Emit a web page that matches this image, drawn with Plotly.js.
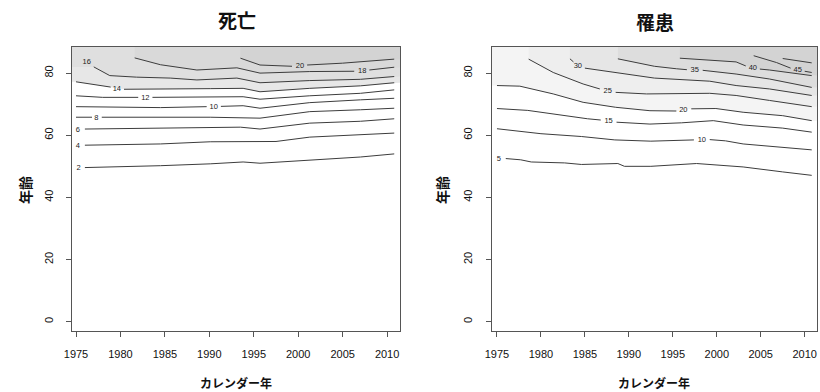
<!DOCTYPE html>
<html>
<head>
<meta charset="utf-8">
<script src="https://cdn.plot.ly/plotly-3.0.1.min.js"></script>
<style>html,body{margin:0;padding:0;background:#fff;}#chart{width:820px;height:392px;}</style>
</head>
<body>
<div id="chart"></div>
<script>
// ---------- 死亡 (mortality) contour lines: calendar year vs age ----------
const mortLevels = [2, 4, 6, 8, 10, 12, 14, 16, 18, 20];
const mort2X = [1976, 1981.8, 1984.5, 1990.1, 1993.8, 1995.7, 2001.3, 2007, 2010.8];
const mort2Y = [49.6, 49.9, 50.2, 50.8, 51.4, 51.0, 51.9, 53.0, 54.0];
const mort4X = [1976, 1984.5, 1990.1, 1995.7, 1997.5, 2001.3, 2007, 2010.8];
const mort4Y = [56.8, 57.2, 57.9, 57.9, 58.0, 59.4, 60.1, 60.7];
const mort6X = [1976, 1984.5, 1990.1, 1993.5, 1995.7, 2001.3, 2007, 2010.8];
const mort6Y = [62.0, 62.2, 62.4, 62.6, 62.0, 63.9, 64.5, 65.3];
const mort8X = [1975, 1976.8, null, 1977.9, 1984.5, 1990.1, 1995.7, 2001.3, 2007, 2010.8];
const mort8Y = [65.8, 65.8, null, 65.8, 65.8, 65.8, 65.5, 67.6, 68.2, 68.7];
const mort10X = [1975, 1984.5, 1989.7, null, 1991.3, 1993.8, 1995.7, 2001.3, 2007, 2010.8];
const mort10Y = [69.2, 68.9, 69.2, null, 69.3, 69.5, 68.7, 70.5, 71.4, 71.9];
const mort12X = [1975, 1978, 1982, null, 1983.6, 1990.1, 1993.8, 1995.7, 2001.3, 2007, 2010.8];
const mort12Y = [72.7, 72.2, 72.2, null, 72.2, 72.2, 72.4, 71.6, 72.7, 73.5, 74.6];
const mort14X = [1975, 1978, 1978.9, null, 1980.4, 1984.5, 1990.1, 1993.8, 1995.7, 2001.3, 2007, 2010.8];
const mort14Y = [77.2, 75.9, 75.5, null, 74.8, 74.8, 75.0, 75.1, 74.0, 75.1, 75.9, 76.9];
const mort16X = [1977, 1978.8, 1981.8, 1985.6, 1988.6, 1993.1, 1995.7, 2001.3, 2007, 2010.8];
const mort16Y = [82.0, 79.2, 78.7, 78.4, 77.8, 78.4, 76.9, 77.6, 78.0, 78.9];
const mort18X = [1981.6, 1984.5, 1988.6, 1993.1, 1995.7, 2001.3, 2006.3, null, 2008, 2010.8];
const mort18Y = [84.9, 82.7, 81.0, 81.7, 80.0, 80.5, 80.6, null, 81.0, 81.9];
const mort20X = [1993.5, 1995.7, 1999.3, null, 2001, 2005, 2010.8];
const mort20Y = [84.8, 82.6, 82.2, null, 82.6, 83.2, 84.5];
const mortLabelText = ['2', '4', '6', '8', '10', '12', '14', '16', '18', '20'];
const mortLabelX = [1975.3, 1975.2, 1975.2, 1977.3, 1990.5, 1982.8, 1979.6, 1976.2, 2007.2, 2000.2];
const mortLabelY = [49.3, 56.5, 61.8, 65.5, 69.2, 71.8, 74.8, 83.4, 80.6, 82.4];

// ---------- 罹患 (incidence) contour lines ----------
const incLevels = [5, 10, 15, 20, 25, 30, 35, 40, 45, 50];
const inc5X = [1976, 1977.7, 1978.9, 1982.7, 1984.6, 1988.75, 1989.5, 1992.5, 1997.7, 2003, 2007.5, 2010.8];
const inc5Y = [52.5, 52.1, 51.4, 51.1, 50.6, 50.9, 50.0, 50.0, 50.9, 49.8, 48.2, 47.1];
const inc10X = [1975, 1977.8, 1980, 1984.6, 1988.4, 1992.5, 1995.5, 1997.4, null, 1999.2, 2001, 2003, 2007.5, 2010.8];
const inc10Y = [62.1, 61.3, 60.5, 59.6, 58.5, 58.1, 58.3, 58.5, null, 58.6, 58.2, 57.2, 56.2, 55.3];
const inc15X = [1975, 1978.5, 1985.3, 1986.8, null, 1988.6, 1992.4, 1996, 1999.6, 2003, 2007.5, 2010.8];
const inc15Y = [68.6, 68.0, 65.3, 64.9, null, 64.2, 63.6, 64.0, 64.7, 63.3, 62.3, 61.0];
const inc20X = [1975, 1977.6, 1981.4, 1984.8, 1988.5, 1992.4, 1995.4, null, 1997.1, 1999.9, 2003, 2007.5, 2010.8];
const inc20Y = [76.0, 75.8, 73.3, 70.6, 69.0, 67.9, 67.8, null, 68.5, 68.6, 67.4, 66.3, 64.7];
const inc25X = [1978.6, 1981.4, 1984.8, 1986.7, null, 1988.5, 1992, 1999.2, 2002.2, 2006, 2010.8];
const inc25Y = [84.5, 80.2, 76.5, 74.9, null, 73.8, 73.3, 73.5, 72.8, 71.2, 69.2];
const inc30X = [1983.3, 1983.7, null, 1985, 1987, 1992.9, 1999.2, 2002.2, 2006, 2010.8];
const inc30Y = [84.6, 83.6, null, 81.6, 80.8, 78.4, 77.4, 76.0, 74.9, 72.8];
const inc35X = [1988.75, 1992.9, 1995.4, 1996.6, null, 1998.4, 2002.2, 2006, 2010.8];
const inc35Y = [84.6, 82.2, 81.4, 81.1, null, 80.9, 79.7, 78.1, 75.4];
const inc40X = [1995.8, 1999.2, 2002.2, 2003.3, null, 2004.9, 2006, 2010.8];
const inc40Y = [84.8, 84.2, 83.6, 82.3, null, 81.3, 81.0, 79.2];
const inc45X = [2004.2, 2005.5, 2006.8, 2008.4, null, 2010, 2010.8];
const inc45Y = [85.6, 84.6, 83.4, 81.6, null, 80.6, 80.2];
const inc50X = [2007.5, 2009, 2010.8];
const inc50Y = [84.7, 84.1, 83.3];
const incLabelText = ['5', '10', '15', '20', '25', '30', '35', '40', '45'];
const incLabelX = [1975.2, 1998.3, 1987.7, 1996.2, 1987.6, 1984.2, 1997.5, 2004.1, 2009.2];
const incLabelY = [52.2, 58.5, 64.5, 68.0, 74.1, 82.4, 81.0, 81.5, 81.0];

// axis ticks
const xTickVals = [1975, 1980, 1985, 1990, 1995, 2000, 2005, 2010];
const yTickVals = [0, 20, 40, 60, 80];

// ---------------------------------------------------------------
const X_RANGE_L = [1974.55, 2011.45];
const X_RANGE_R = [1974.4, 2011.4];
const Y_RANGE = [-3.0, 88.5];
const LINE_COLOR = '#3c3c3c';

function fillPoly(xs, ys, xr, top) {
  const px = [], py = [];
  xs.forEach((x, i) => { if (x !== null && ys[i] !== null) { px.push(x); py.push(ys[i]); } });
  const outX = [], outY = [];
  if (px[0] < 1978) { outX.push(xr[0], xr[0]); outY.push(top, py[0]); }
  else { outX.push(px[0]); outY.push(top); }
  for (let i = 0; i < px.length; i++) { outX.push(px[i]); outY.push(py[i]); }
  outX.push(xr[1], xr[1]); outY.push(py[py.length - 1], top);
  return {x: outX, y: outY};
}

const traces = [];
function addFill(xs, ys, color, xa, ya, xr) {
  const p = fillPoly(xs, ys, xr, Y_RANGE[1]);
  traces.push({x: p.x, y: p.y, type: 'scatter', mode: 'lines', fill: 'toself',
    fillcolor: color, line: {width: 0}, hoverinfo: 'skip', showlegend: false, xaxis: xa, yaxis: ya});
}
function addLine(xs, ys, xa, ya) {
  traces.push({x: xs, y: ys, type: 'scatter', mode: 'lines', connectgaps: false,
    line: {color: LINE_COLOR, width: 1}, hoverinfo: 'skip', showlegend: false, xaxis: xa, yaxis: ya});
}
function addLabels(xs, ys, txt, xa, ya) {
  traces.push({x: xs, y: ys, text: txt, type: 'scatter', mode: 'text',
    textfont: {family: 'Liberation Sans, Arial, sans-serif', size: 7.5, color: '#222'},
    hoverinfo: 'skip', showlegend: false, xaxis: xa, yaxis: ya});
}

// shading (left)
addFill(mort14X, mort14Y, '#e7e7e7', 'x', 'y', X_RANGE_L);
addFill(mort16X, mort16Y, '#dfdfdf', 'x', 'y', X_RANGE_L);
addFill(mort18X, mort18Y, '#d9d9d9', 'x', 'y', X_RANGE_L);
addFill(mort20X, mort20Y, '#d3d3d3', 'x', 'y', X_RANGE_L);
// shading (right)
addFill(inc20X, inc20Y, '#f4f4f4', 'x2', 'y2', X_RANGE_R);
addFill(inc25X, inc25Y, '#eeeeee', 'x2', 'y2', X_RANGE_R);
addFill(inc30X, inc30Y, '#e6e6e6', 'x2', 'y2', X_RANGE_R);
addFill(inc35X, inc35Y, '#dddddd', 'x2', 'y2', X_RANGE_R);
addFill(inc40X, inc40Y, '#d3d3d3', 'x2', 'y2', X_RANGE_R);

const mortLines = [[mort2X, mort2Y], [mort4X, mort4Y], [mort6X, mort6Y], [mort8X, mort8Y], [mort10X, mort10Y],
  [mort12X, mort12Y], [mort14X, mort14Y], [mort16X, mort16Y], [mort18X, mort18Y], [mort20X, mort20Y]];
mortLines.forEach(l => addLine(l[0], l[1], 'x', 'y'));
const incLines = [[inc5X, inc5Y], [inc10X, inc10Y], [inc15X, inc15Y], [inc20X, inc20Y], [inc25X, inc25Y],
  [inc30X, inc30Y], [inc35X, inc35Y], [inc40X, inc40Y], [inc45X, inc45Y], [inc50X, inc50Y]];
incLines.forEach(l => addLine(l[0], l[1], 'x2', 'y2'));
addLabels(mortLabelX, mortLabelY, mortLabelText, 'x', 'y');
addLabels(incLabelX, incLabelY, incLabelText, 'x2', 'y2');

const W = 820, H = 392;
const tickFont = {family: 'Liberation Sans, Arial, sans-serif', size: 11, color: '#111'};
function xAxis(domain, range, anchor) {
  return {domain: domain, range: range, anchor: anchor, tickvals: xTickVals, ticks: 'outside', ticklen: 5,
    tickcolor: '#555', showline: true, mirror: true, linecolor: '#555', linewidth: 1, showgrid: false,
    zeroline: false, tickfont: tickFont, ticklabelstandoff: 8, fixedrange: true};
}
function yAxis(domain, anchor) {
  return {domain: domain, range: Y_RANGE, anchor: anchor, tickvals: yTickVals, ticks: 'outside', ticklen: 5,
    tickcolor: '#555', showline: true, mirror: true, linecolor: '#555', linewidth: 1, showgrid: false,
    zeroline: false, tickfont: tickFont, tickangle: -90, ticklabelstandoff: 9, fixedrange: true};
}
const yDom = [1 - 331 / H, 1 - 46.7 / H];
const cjk = 'Noto Sans CJK JP, sans-serif';
function ann(text, px, py, size, angle) {
  return {text: text, x: px / W, y: 1 - py / H, xref: 'paper', yref: 'paper', showarrow: false,
    xanchor: 'center', yanchor: 'middle', textangle: angle || 0,
    font: {family: cjk, size: size, color: '#111'}};
}
const layout = {
  width: W, height: H, margin: {l: 0, r: 0, t: 0, b: 0}, paper_bgcolor: '#fff', plot_bgcolor: '#fff',
  showlegend: false,
  xaxis: xAxis([72 / W, 400 / W], X_RANGE_L, 'y'),
  yaxis: yAxis(yDom, 'x'),
  xaxis2: xAxis([491.7 / W, 817 / W], X_RANGE_R, 'y2'),
  yaxis2: yAxis(yDom, 'x2'),
  annotations: [
    ann('<b>死亡</b>', 237, 20, 19),
    ann('<b>罹患</b>', 655, 21, 19),
    ann('<b>カレンダー年</b>', 236, 382, 12),
    ann('<b>カレンダー年</b>', 654, 382, 12),
    ann('<b>年齢</b>', 25, 190, 14, -90),
    ann('<b>年齢</b>', 442, 190, 14, -90)
  ]
};
Plotly.newPlot('chart', traces, layout, {displayModeBar: false, staticPlot: true});
</script>
</body>
</html>
